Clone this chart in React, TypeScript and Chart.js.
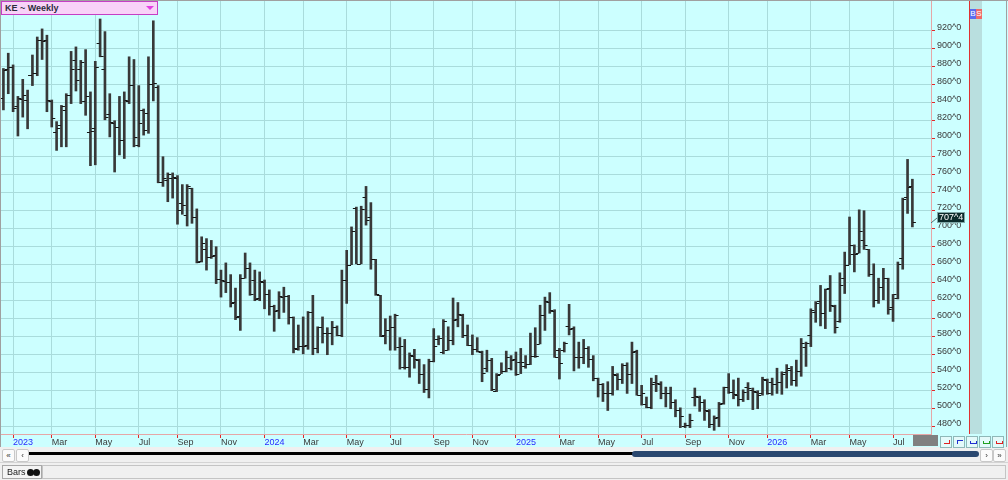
import { useEffect, useRef } from "react";
import Chart from "chart.js/auto";

// weekly OHLC, one entry per bar
const opens = [
  845, 878, 880, 836, 844, 843, 871, 873, 910, 910,
  842, 808, 815, 832, 849, 887, 878, 842, 808, 812,
  906, 878, 827, 818, 813, 799, 842, 860, 793, 832,
  829, 861, 857, 752, 754, 756, 756, 729, 715, 745,
  713, 664, 677, 669, 671, 644, 642, 641, 619, 603,
  645, 656, 643, 623, 641, 627, 614, 610, 624, 625,
  602, 566, 570, 571, 607, 567, 591, 584, 584, 591,
  582, 643, 660, 723, 661, 735, 713, 666, 626, 582,
  587, 591, 569, 546, 546, 559, 554, 539, 522, 553,
  578, 563, 565, 576, 600, 604, 582, 571, 566, 563,
  545, 554, 520, 539, 542, 545, 555, 552, 547, 550,
  559, 572, 604, 619, 609, 565, 565, 592, 590, 557,
  557, 567, 555, 534, 527, 518, 517, 537, 533, 549,
  539, 564, 515, 505, 502, 530, 528, 518, 518, 508,
  499, 481, 482, 513, 513, 508, 498, 483, 491, 506,
  524, 519, 515, 511, 524, 521, 519, 517, 532, 530,
  528, 530, 541, 543, 532, 542, 569, 582, 608, 620,
  606, 634, 614, 598, 645, 660, 672, 673, 687, 677,
  650, 621, 635, 645, 613, 623, 667, 735, 748,
];

const highs = [
  878, 895, 882, 847, 866, 854, 893, 913, 922, 915,
  843, 819, 837, 850, 897, 902, 887, 899, 852, 886,
  933, 919, 850, 820, 847, 852, 891, 888, 859, 833,
  891, 931, 859, 780, 762, 762, 759, 749, 749, 745,
  722, 691, 689, 687, 680, 654, 662, 649, 634, 649,
  673, 662, 654, 652, 643, 632, 615, 630, 635, 626,
  602, 593, 602, 608, 626, 591, 602, 590, 597, 592,
  654, 676, 702, 724, 725, 747, 729, 666, 626, 600,
  603, 605, 579, 577, 562, 566, 555, 549, 555, 589,
  581, 599, 591, 623, 618, 605, 593, 582, 579, 564,
  565, 556, 539, 551, 564, 559, 563, 567, 559, 584,
  590, 615, 624, 629, 610, 567, 574, 616, 591, 574,
  577, 569, 559, 534, 528, 530, 547, 539, 550, 551,
  574, 565, 526, 513, 534, 537, 530, 524, 524, 510,
  501, 484, 494, 523, 514, 510, 499, 492, 507, 524,
  539, 532, 534, 521, 529, 523, 520, 535, 533, 534,
  545, 541, 549, 547, 554, 578, 574, 611, 619, 637,
  633, 648, 615, 651, 674, 713, 682, 721, 720, 677,
  661, 645, 656, 645, 627, 663, 734, 777, 755,
];

const lows = [
  832, 850, 830, 803, 824, 811, 859, 870, 888, 830,
  813, 787, 791, 791, 839, 853, 839, 826, 770, 771,
  891, 821, 802, 763, 782, 778, 839, 791, 791, 804,
  806, 842, 751, 747, 730, 734, 705, 716, 703, 706,
  662, 663, 654, 667, 639, 624, 629, 613, 599, 587,
  645, 626, 620, 620, 611, 604, 586, 600, 607, 594,
  562, 565, 561, 566, 560, 562, 573, 560, 571, 581,
  580, 617, 660, 661, 661, 704, 655, 626, 580, 572,
  565, 565, 544, 544, 535, 545, 528, 518, 512, 552,
  571, 561, 565, 571, 591, 579, 570, 560, 563, 530,
  541, 520, 519, 539, 541, 543, 537, 539, 545, 549,
  557, 572, 587, 606, 557, 533, 563, 582, 542, 545,
  550, 546, 531, 513, 508, 498, 515, 521, 528, 517,
  528, 515, 504, 501, 500, 519, 511, 502, 500, 491,
  479, 479, 479, 503, 497, 487, 479, 476, 480, 505,
  517, 511, 503, 508, 510, 499, 500, 515, 516, 515,
  517, 516, 523, 526, 525, 536, 547, 569, 596, 592,
  589, 608, 584, 596, 628, 660, 652, 673, 677, 647,
  613, 617, 621, 605, 597, 622, 655, 717, 702,
];

const closes = [
  876, 880, 834, 845, 849, 871, 873, 910, 909, 843,
  823, 812, 836, 849, 878, 865, 885, 847, 809, 880,
  892, 824, 819, 813, 799, 843, 860, 802, 817, 810,
  861, 862, 752, 756, 761, 757, 721, 726, 747, 713,
  663, 684, 669, 670, 644, 643, 641, 618, 602, 645,
  656, 627, 622, 642, 628, 614, 609, 625, 625, 602,
  567, 570, 570, 607, 567, 591, 584, 584, 591, 582,
  643, 660, 698, 661, 722, 710, 666, 627, 581, 587,
  591, 604, 570, 546, 560, 555, 539, 522, 553, 570,
  579, 598, 576, 599, 605, 582, 571, 566, 564, 540,
  554, 522, 537, 542, 557, 554, 539, 552, 550, 559,
  559, 604, 620, 610, 558, 551, 573, 589, 557, 558,
  568, 555, 534, 528, 518, 517, 539, 533, 549, 539,
  563, 515, 517, 502, 528, 529, 518, 518, 508, 499,
  492, 482, 487, 514, 508, 499, 483, 490, 505, 524,
  519, 516, 511, 519, 523, 520, 515, 533, 517, 528,
  530, 539, 545, 532, 542, 573, 573, 610, 618, 606,
  633, 615, 591, 637, 660, 682, 672, 698, 682, 650,
  621, 635, 645, 611, 627, 661, 733, 746, 707.5,
];

// bar index of the first week of each labelled month
const monthTickBars = [2, 10, 19, 28, 36, 45, 54, 62, 71, 80, 89, 97, 106, 115, 123, 132, 141, 150, 158, 167, 175, 184];
const monthLabels = [
  "2023", "Mar", "May", "Jul", "Sep", "Nov",
  "2024", "Mar", "May", "Jul", "Sep", "Nov",
  "2025", "Mar", "May", "Jul", "Sep", "Nov",
  "2026", "Mar", "May", "Jul",
];
const priceTicks = [480, 500, 520, 540, 560, 580, 600, 620, 640, 660, 680, 700, 720, 740, 760, 780, 800, 820, 840, 860, 880, 900, 920];
const lastPriceLabel = "707^4";

const FONT = "'Liberation Sans', Arial, sans-serif";
const BG = "#ccffff";
const GRID = "#a9dcdc";
const AXIS = "#e6a6a6";
const TICK = "#e02828";

// no end padding for labels, so the plot area sits exactly where the layout puts it
function noPadding(scale: any) {
  scale.paddingTop = 0;
  scale.paddingBottom = 0;
  scale.paddingLeft = 0;
  scale.paddingRight = 0;
}

const ohlcTicks = {
  id: "ohlcTicks",
  afterDatasetsDraw(chart: any) {
    const { ctx, chartArea, scales } = chart;
    ctx.save();
    ctx.beginPath();
    ctx.rect(chartArea.left, chartArea.top, chartArea.width, chartArea.height);
    ctx.clip();
    ctx.strokeStyle = "#151515";
    ctx.lineWidth = 1;
    ctx.beginPath();
    opens.forEach((o, i) => {
      const x = scales.x.getPixelForValue(i);
      const yo = Math.round(scales.y.getPixelForValue(o)) + 0.5;
      const yc = Math.round(scales.y.getPixelForValue(closes[i])) + 0.5;
      ctx.moveTo(x - 3.5, yo);
      ctx.lineTo(x - 0.5, yo);
      ctx.moveTo(x + 0.5, yc);
      ctx.lineTo(x + 3.5, yc);
    });
    ctx.stroke();
    ctx.restore();
  },
};

const lastPrice = {
  id: "lastPrice",
  afterDraw(chart: any) {
    const { ctx, chartArea, scales } = chart;
    const y = scales.y.getPixelForValue(closes[closes.length - 1]);
    const left = chartArea.right + 6;
    const top = Math.round(y) - 10;
    ctx.save();
    ctx.strokeStyle = "#507070";
    ctx.lineWidth = 1;
    ctx.beginPath();
    ctx.moveTo(chartArea.right, y + 1);
    ctx.lineTo(left, top + 6);
    ctx.stroke();
    ctx.fillStyle = "#0c2c2c";
    ctx.fillRect(left, top, 28, 11);
    ctx.strokeStyle = "#7fa8a8";
    ctx.strokeRect(left + 0.5, top + 0.5, 27, 10);
    ctx.fillStyle = "#ffffff";
    ctx.font = `9px ${FONT}`;
    ctx.textBaseline = "middle";
    ctx.textAlign = "left";
    ctx.fillText(lastPriceLabel, left + 2, top + 6);
    ctx.restore();
  },
};

function ScrollButton({ left, text }: { left: number; text: string }) {
  return (
    <div
      style={{
        position: "absolute",
        left,
        top: 449,
        width: 11,
        height: 11,
        background: "#fbfbfb",
        border: "1px solid #c8c8c8",
        borderRadius: 2,
        fontSize: 8,
        lineHeight: "11px",
        textAlign: "center",
        color: "#333",
      }}
    >
      {text}
    </div>
  );
}

function CornerButton({ left, color, kind }: { left: number; color: string; kind: number }) {
  const mark: any = { position: "absolute", left: 3, top: 3, width: 5, height: 3 };
  if (kind === 0) Object.assign(mark, { borderRight: `1px solid ${color}`, borderBottom: `1px solid ${color}` });
  else if (kind === 1) Object.assign(mark, { borderLeft: `1px solid ${color}`, borderTop: `1px solid ${color}` });
  else Object.assign(mark, { borderLeft: `1px solid ${color}`, borderRight: `1px solid ${color}`, borderBottom: `1px solid ${color}`, height: 2, top: 4 });
  return (
    <div
      style={{
        position: "absolute",
        left,
        top: 436,
        width: 10,
        height: 10,
        background: "#e4fafa",
        border: "1px solid #8fb8b8",
      }}
    >
      <div style={mark} />
    </div>
  );
}

function WeeklyChart() {
  const canvasRef = useRef<HTMLCanvasElement>(null);

  useEffect(() => {
    if (!canvasRef.current) return;
    const chart = new Chart(canvasRef.current, {
      type: "bar",
      data: {
        datasets: [
          {
            data: highs.map((h, i) => ({ x: i, y: [lows[i], h] })) as any,
            backgroundColor: "#383838",
            borderWidth: 0,
            barThickness: 2,
          },
        ],
      },
      options: {
        animation: false,
        responsive: true,
        maintainAspectRatio: false,
        events: [],
        layout: { padding: { left: 1, top: 1, right: 0, bottom: 0 } },
        plugins: {
          legend: { display: false },
          tooltip: { enabled: false },
        },
        scales: {
          x: {
            type: "linear",
            min: -0.5,
            max: 191.85,
            offset: false,
            grid: { color: GRID, offset: false, tickColor: TICK, tickLength: 4 },
            border: { color: AXIS },
            afterBuildTicks: (scale: any) => {
              scale.ticks = monthTickBars.map((v) => ({ value: v }));
            },
            afterFit: (scale: any) => {
              scale.height = 13;
              noPadding(scale);
            },
            ticks: {
              autoSkip: false,
              maxRotation: 0,
              align: "start",
              padding: 0,
              font: { family: FONT, size: 9, lineHeight: 1 },
              color: (c: any) => (/^\d{4}$/.test(monthLabels[c.index] || "") ? "#2a2aff" : "#3a3a3a"),
              callback: (_v: any, i: number) => monthLabels[i],
            },
          },
          y: {
            type: "linear",
            position: "right",
            min: 471.9,
            max: 953,
            grid: { color: GRID, tickColor: TICK, tickLength: 4 },
            border: { color: AXIS },
            afterBuildTicks: (scale: any) => {
              scale.ticks = priceTicks.map((v) => ({ value: v }));
            },
            afterFit: (scale: any) => {
              scale.width = 38;
              noPadding(scale);
            },
            ticks: {
              padding: 2,
              labelOffset: -3,
              font: { family: FONT, size: 9 },
              color: "#3a3a3a",
              callback: (v: any) => `${v}^0`,
            },
          },
        },
      } as any,
      plugins: [ohlcTicks, lastPrice],
    });
    return () => chart.destroy();
  }, []);

  return (
    <div style={{ position: "absolute", left: 0, top: 0, width: 969, height: 447 }}>
      <canvas ref={canvasRef}></canvas>
    </div>
  );
}

export default function App() {
  return (
    <div
      style={{
        position: "fixed",
        left: 0,
        top: 0,
        width: 1008,
        height: 480,
        overflow: "hidden",
        background: "#f0f0f0",
        fontFamily: FONT,
        fontSize: 9,
      }}
    >
      <div style={{ position: "absolute", left: 0, top: 0, width: 1008, height: 447, background: BG }} />
      {/* side column with B / S markers */}
      <div style={{ position: "absolute", left: 970, top: 0, width: 12, height: 434, background: "#b9dfdf" }} />
      <div style={{ position: "absolute", left: 969, top: 0, width: 1, height: 434, background: "#e03030" }} />
      <div style={{ position: "absolute", left: 970, top: 9, width: 6, height: 10, background: "#5a6cf0", color: "#fff", fontSize: 8, lineHeight: "10px", textAlign: "center" }}>B</div>
      <div style={{ position: "absolute", left: 976, top: 9, width: 6, height: 10, background: "#f06a6a", color: "#fff", fontSize: 8, lineHeight: "10px", textAlign: "center" }}>S</div>

      <WeeklyChart />

      {/* frame */}
      <div style={{ position: "absolute", left: 0, top: 0, width: 1008, height: 1, background: "#a0a0a0" }} />
      <div style={{ position: "absolute", left: 0, top: 0, width: 1, height: 447, background: "#a0a0a0" }} />
      <div style={{ position: "absolute", left: 1006, top: 0, width: 1, height: 447, background: "#a0a0a0" }} />

      {/* title */}
      <div
        style={{
          position: "absolute",
          left: 1,
          top: 1,
          width: 152,
          height: 12,
          paddingLeft: 3,
          background: "#f8d2f8",
          border: "1px solid #c53ec5",
          fontWeight: "bold",
          fontSize: 9,
          lineHeight: "12px",
          color: "#2c2c3c",
        }}
      >
        KE ~ Weekly
        <div
          style={{
            position: "absolute",
            right: 3,
            top: 4,
            width: 0,
            height: 0,
            borderLeft: "4px solid transparent",
            borderRight: "4px solid transparent",
            borderTop: "4px solid #e23ee2",
          }}
        />
      </div>

      {/* bottom right of date row */}
      <div style={{ position: "absolute", left: 913, top: 435, width: 25, height: 11, background: "#808080" }} />
      <CornerButton left={940} color="#e02020" kind={0} />
      <CornerButton left={953} color="#2030d0" kind={1} />
      <CornerButton left={966} color="#2030d0" kind={2} />
      <CornerButton left={979} color="#20a020" kind={2} />
      <CornerButton left={992} color="#e02020" kind={2} />

      {/* scroll row */}
      <ScrollButton left={2} text="«" />
      <ScrollButton left={16} text="‹" />
      <div style={{ position: "absolute", left: 29, top: 452, width: 604, height: 3, background: "#000" }} />
      <div style={{ position: "absolute", left: 632, top: 451, width: 347, height: 6, background: "#2a4870", borderRadius: 3 }} />
      <ScrollButton left={980} text="›" />
      <ScrollButton left={993} text="»" />

      {/* bottom tab row */}
      <div style={{ position: "absolute", left: 0, top: 462, width: 1008, height: 1, background: "#d4d4d4" }} />
      <div
        style={{
          position: "absolute",
          left: 2,
          top: 465,
          width: 38,
          height: 12,
          border: "1px solid #a8a8a8",
          background: "#f4f4f4",
          fontSize: 9,
          lineHeight: "12px",
          color: "#222",
        }}
      >
        <span style={{ position: "absolute", left: 4 }}>Bars</span>
        <span style={{ position: "absolute", left: 24, top: 3, width: 7, height: 7, borderRadius: 4, background: "#111" }} />
        <span style={{ position: "absolute", left: 30, top: 3, width: 7, height: 7, borderRadius: 4, background: "#111" }} />
      </div>
      <div style={{ position: "absolute", left: 42, top: 465, width: 962, height: 12, border: "1px solid #c4c4c4" }} />
    </div>
  );
}
